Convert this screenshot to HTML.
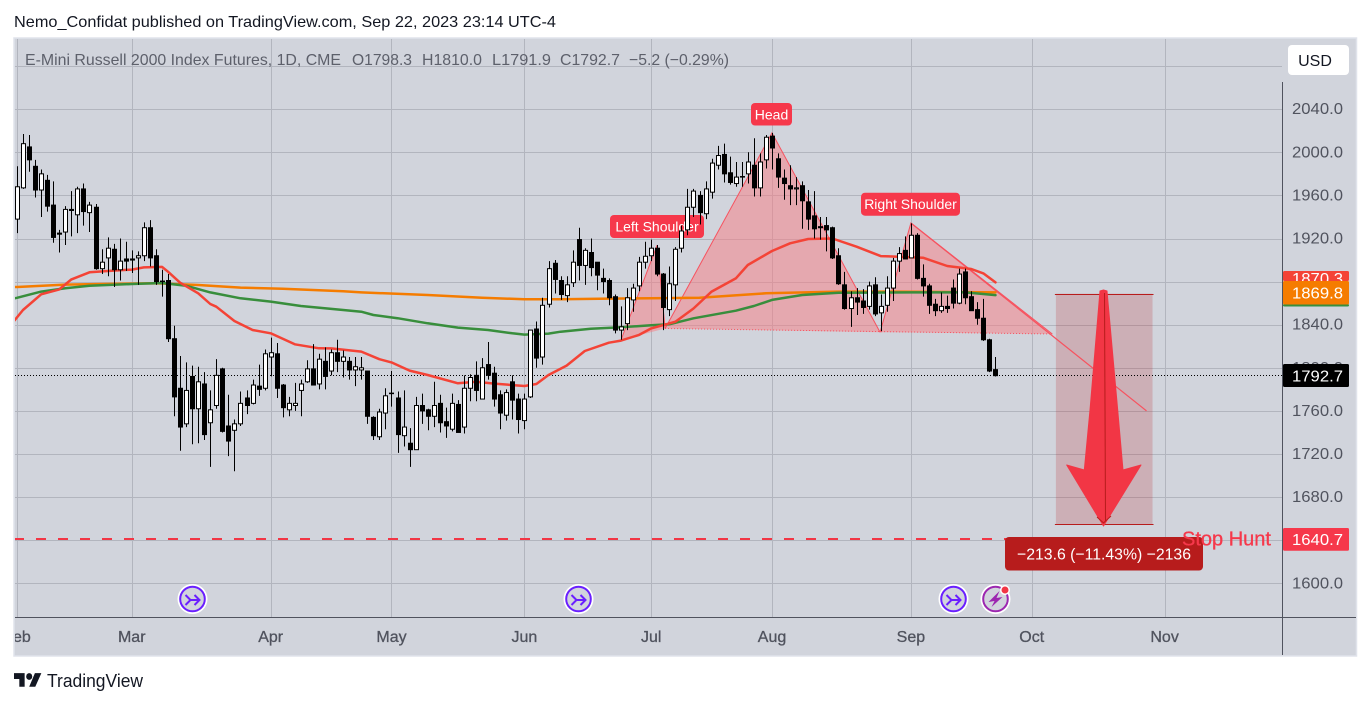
<!DOCTYPE html>
<html lang="en">
<head>
<meta charset="utf-8">
<title>E-Mini Russell 2000 Index Futures chart</title>
<style>
html,body{margin:0;padding:0;background:#fff;width:1370px;height:704px;overflow:hidden}
svg{display:block;font-family:"Liberation Sans",sans-serif}
</style>
</head>
<body>
<svg id="chart" xmlns="http://www.w3.org/2000/svg" width="1370" height="704" viewBox="0 0 1370 704">
  <defs>
    <clipPath id="pane"><rect x="15" y="39" width="1267" height="578"/></clipPath>
    <clipPath id="timeclip"><rect x="15" y="618" width="1267" height="38"/></clipPath>
  </defs>
  <text x="14" y="27" font-size="16" fill="#131722" textLength="542" lengthAdjust="spacingAndGlyphs">Nemo_Confidat published on TradingView.com, Sep 22, 2023 23:14 UTC-4</text>
  <rect x="14" y="38" width="1342.5" height="618" fill="#d1d4dc" stroke="#e0e3eb" stroke-width="1.5"/>
  <g id="grid" clip-path="url(#pane)"></g>
  <g id="drawings" clip-path="url(#pane)"></g>
  <g id="mas" clip-path="url(#pane)"></g>
  <g id="candles" clip-path="url(#pane)"></g>
  <g id="overlay">
    <g>
      <polygon points="1100,291 1103.5,290 1107,291 1117.7,410 1123,470 1141,465 1103.5,526 1066.7,465 1084.3,470 1090,410" fill="#f23645" stroke="#f23645" stroke-width="1" stroke-linejoin="round"/>
      <line x1="1104.5" y1="293" x2="1105.5" y2="521" stroke="#b71c1c" stroke-width="1"/>
      <polyline points="1097,517 1103.5,523 1111,516" fill="none" stroke="#b71c1c" stroke-width="1"/>
    </g>
    <g>
      <rect x="1005" y="537" width="198" height="33.5" rx="4" fill="#b71c1c"/>
      <text x="1104" y="559.5" font-size="16" fill="#fff" text-anchor="middle" textLength="174" lengthAdjust="spacingAndGlyphs">−213.6 (−11.43%) −2136</text>
    </g>
    <text x="1182" y="545.5" font-size="20" fill="#f6384b" stroke="#f6384b" stroke-width="0.3" textLength="89" lengthAdjust="spacingAndGlyphs">Stop Hunt</text>
    <g transform="translate(192.5 599)">
      <circle r="15" fill="#fff"/><circle r="12.3" fill="#d1d4dc" stroke="#6a1fff" stroke-width="2"/>
      <path d="M-7-4-2 1-7 6M-2 1H7M2-4 7 1 2 6" fill="none" stroke="#6a1fff" stroke-width="2"/>
    </g>
    <g transform="translate(578.5 599)">
      <circle r="15" fill="#fff"/><circle r="12.3" fill="#d1d4dc" stroke="#6a1fff" stroke-width="2"/>
      <path d="M-7-4-2 1-7 6M-2 1H7M2-4 7 1 2 6" fill="none" stroke="#6a1fff" stroke-width="2"/>
    </g>
    <g transform="translate(953.5 599)">
      <circle r="15" fill="#fff"/><circle r="12.3" fill="#d1d4dc" stroke="#6a1fff" stroke-width="2"/>
      <path d="M-7-4-2 1-7 6M-2 1H7M2-4 7 1 2 6" fill="none" stroke="#6a1fff" stroke-width="2"/>
    </g>
    <g transform="translate(995.5 599)">
      <circle r="15" fill="#fff"/><circle r="12.3" fill="#d1d4dc" stroke="#9c27b0" stroke-width="2"/>
      <polygon points="4,-8 -7,3 -1,2 -4,8 7,-2 1,-1" fill="#9c27b0"/>
      <circle cx="9.5" cy="-9" r="5" fill="#fff"/><circle cx="9.5" cy="-9" r="3.5" fill="#f23645"/>
    </g>
  </g>
  <text x="25" y="65" font-size="16" fill="#5d606b" textLength="316" lengthAdjust="spacingAndGlyphs">E-Mini Russell 2000 Index Futures, 1D, CME</text>
  <text x="352" y="65" font-size="16" fill="#5d606b" textLength="60" lengthAdjust="spacingAndGlyphs">O1798.3</text>
  <text x="422" y="65" font-size="16" fill="#5d606b" textLength="60" lengthAdjust="spacingAndGlyphs">H1810.0</text>
  <text x="492" y="65" font-size="16" fill="#5d606b" textLength="59" lengthAdjust="spacingAndGlyphs">L1791.9</text>
  <text x="560" y="65" font-size="16" fill="#5d606b" textLength="60" lengthAdjust="spacingAndGlyphs">C1792.7</text>
  <text x="629" y="65" font-size="16" fill="#5d606b" textLength="100" lengthAdjust="spacingAndGlyphs">−5.2 (−0.29%)</text>
  <g id="axes"></g>
  <g>
    <rect x="1288" y="45" width="61" height="30" rx="4" fill="#fff"/>
    <text x="1315" y="66" font-size="16" fill="#131722" text-anchor="middle">USD</text>
  </g>
  <g>
    <g transform="translate(14 668) scale(.76 .85)" fill="#131722">
      <path d="M14 6H0v7h7v9h7V6zM28 22h-8l7.5-16H36l-8 16z"/><circle cx="20" cy="10" r="4"/>
    </g>
    <text x="47" y="687" font-size="18" fill="#131722" textLength="96" lengthAdjust="spacingAndGlyphs">TradingView</text>
  </g>
</svg>
<script>
// ---- Chart data (daily sessions) ----
const opens=[1938,1967,2005,1987,1965,1974,1951,1925,1926,1947,
1942,1966,1944,1949,1892,1902,1910,1891,1901,1901,
1902,1904,1930,1904,1880.5,1881,1827,1781,1748,1792,
1762,1785,1749,1765,1799,1746,1742,1748,1772,1767,
1783,1781,1810,1813,1784,1761,1765,1779,1787,1799,
1785,1806,1797,1814,1806,1806,1798,1798,1797,1754,
1736,1758,1776.5,1772,1737,1730,1724,1765,1761,1755,
1767,1750,1743,1766,1745,1781,1793,1771,1803,1795,
1775,1756,1787,1771,1751,1773,1836,1810,1859,1897,
1881,1867,1879,1919,1895,1907,1898,1883,1881,1866,
1835,1841,1863,1876,1898,1904,1911,1887,1854,1877,
1911,1928,1949,1960,1943,1963,1988,1998,1981,1971,
1977.5,1980,1988,1967,1993,2015,1994,1976,1969,1966,
1969,1954,1941,1931,1932,1930,1904,1877,1855,1865,
1862,1857,1877,1851,1858,1874,1899,1909,1902,1923,
1883,1876,1859,1853,1857,1874,1860,1889,1866,1854,
1846,1826,1798.3];
const closes=[1968,2008,1993,1965,1980,1950,1921,1924,1947,1946,
1966,1945,1951,1892,1898,1911,1891,1899,1899,1900,
1904,1930,1902,1880,1880,1827,1773,1745,1779,1762,
1787,1738,1761,1793,1741,1732,1748,1767,1765,1784,
1780,1813,1814,1781,1763,1767,1767,1785,1799,1784,
1808,1792,1814,1806,1810,1798,1801,1800,1755,1737,
1759,1774,1776,1738,1745,1724,1765,1760,1755,1765,
1749,1746,1767,1740,1781,1791,1779,1800,1793,1771,
1758,1777,1770,1752,1771,1835,1809,1858,1892,1882,
1868,1877,1898,1895,1909,1893,1886,1880,1865,1835,
1838,1865,1874,1898,1903.5,1911,1887,1856,1878,1910,
1927,1949,1964,1944,1966,1990,1997,1980,1972,1977,
1977,1991,1967,1991,2014,2004,1977,1971,1966,1967,
1955,1938,1929,1930,1928,1902,1878,1855,1865,1861,
1856,1876,1850,1857,1874,1899,1906,1901,1923,1883,
1876,1858,1853,1857,1855,1860,1887,1865,1853,1846,
1826,1797,1792.7];
const highs=[1987,2017,2016,1993,1984,1979,1973,1928,1950,1964,
1968,1971,1954,1952,1910,1921,1915,1920,1917,1909,
1908,1935,1937,1910,1891,1887,1839,1811,1805,1802,
1801,1796,1779,1808,1800,1775,1752,1778,1779,1789,
1803,1817,1828,1823,1785,1773,1786,1789,1807,1822,
1813,1819,1817,1826,1816,1810,1810,1810,1797,1755,
1762,1781,1797,1778,1779,1744,1773,1776,1762,1787,
1775,1763,1776,1770,1793,1794,1806,1809,1824,1801,
1779,1780,1793,1776,1776,1835,1843,1865,1899,1900,
1885,1885,1909,1930,1911,1920,1898,1892,1883,1868,
1857,1874,1878,1903,1917,1919,1914,1888,1894,1912,
1932,1966,1966,1964,1973,1994,2006,2008,1996,1991,
1991,2000,2013,1999,2016,2018,1999,1984,1988,1977,
1973,1965,1964,1940,1940,1931,1911,1889,1871,1874,
1873,1880,1884,1868,1885,1902,1912,1922,1934,1925,
1896,1878,1864,1870,1867,1882,1892,1892,1871,1861,
1864,1827,1810];
const lows=[1925,1966,1982,1958,1940,1945,1916,1907,1914,1922,
1925,1932,1926,1891,1887,1885,1875,1881,1890,1888,
1877,1899,1894,1877,1866,1824,1755,1723,1745,1729,
1730,1733,1708,1762,1740,1718,1704,1746,1757,1766,
1774,1779,1792,1772,1754,1755,1760,1755,1786,1784,
1780,1780,1793,1796,1791,1789,1783,1789,1748,1733,
1733,1743,1764,1721,1727,1708,1724,1748,1742,1745,
1740,1735,1741,1740,1739,1769,1769,1771,1789,1764,
1743,1751,1752,1739,1743,1772,1800,1803,1856,1869,
1863,1861,1875,1881,1877,1885,1872,1869,1858,1832,
1826,1835,1852,1871,1892,1899,1885,1835,1848,1862,
1907,1923,1940,1933,1938,1957,1984,1972,1970,1968,
1968,1971,1959,1959,1985,1984,1967,1956,1951,1951,
1929,1928,1920,1919,1908,1901,1877,1854,1838,1849,
1850,1854,1848,1834,1852,1862,1889,1901,1902,1882,
1866,1850,1848,1851,1851,1855,1859,1859,1853,1840,
1825,1796,1791.9];

const redSessions=[-0.4,0,1,4,7,9,12,16,19,21,24,25,27,30,32,33,36,39,42,46,50,52,57,60,62,65,68,73,76,79,84,86,88,91,94,98,100,103,105,109,112,115,119,121,125,128,131,135,139,143,146,150,154,158,160,162];
const redValues=[1844,1846.8,1853.6,1868.2,1872.8,1882,1888.6,1890.2,1891.1,1893.2,1893.6,1889.2,1879,1869.1,1859.2,1856.7,1843.4,1835.1,1832,1821.8,1818.1,1818,1815,1808,1805,1797.4,1793.3,1785.6,1787.1,1785.3,1783.1,1785,1793.3,1802,1815.6,1823.3,1825.2,1830.5,1836.6,1842.8,1855,1870.7,1883,1895.4,1908.4,1915.5,1919.5,1920,1912.4,1903.7,1903.1,1902.2,1894.5,1891.7,1887.6,1879.3];
const greenSessions=[-0.4,0,4,8,12,19,24,28,32,37,42,47,54,57,59,63,68,73,78,82,84,88,90,95,100,105,108,112,119,122,125,130,136,148,157,162];
const greenValues=[1864.5,1865,1870.7,1873.8,1876.2,1877.8,1878.7,1876.2,1870,1864.5,1861.4,1857.4,1853.6,1852.1,1849,1846,1841.3,1837.3,1835.1,1832,1830.8,1831.7,1833.5,1836.3,1837.6,1839.4,1840.4,1845.9,1853,1857.4,1863,1867.6,1869.7,1870,1870,1867.5];
const orangeSessions=[-0.4,0,8,14,23,30,37,44,54,57,68,77,84,90,98,105,113,124,136,148,162];
const orangeValues=[1875,1875,1877.2,1877.8,1878.4,1876.8,1874.4,1873.4,1871,1870,1867.6,1865.1,1863.6,1863.6,1864.2,1864.5,1865.1,1869.1,1870.7,1870.6,1870];

const priceTicks=[2080,2040,2000,1960,1920,1880,1840,1800,1760,1720,1680,1640,1600];
const priceTickLabels=['','2040.0','2000.0','1960.0','1920.0','1880.0','1840.0','1800.0','1760.0','1720.0','1680.0','','1600.0'];
const monthSessions=[0,19,42,62,84,105,125,148,168,190];
const monthLabels=['Feb','Mar','Apr','May','Jun','Jul','Aug','Sep','Oct','Nov'];

const lastPrice=1792.7;
const stopHuntPrice=1640.7;
const shoulderSessions=[100,106,107.3];
const shoulderPrices=[1825.8,1914,1836.5];
const headSessions=[107.3,125,142.9];
const headPrices=[1836.5,2018,1833];
const rightSessions=[142.9,148,171.4];
const rightPrices=[1833,1934.4,1831.4];
const neckSessions=[107.3,171.4];
const neckPrices=[1836.5,1831.4];
const slopeSessions=[148,187];
const slopePrices=[1934.4,1760];
const shortBoxSessions=[172,188];
const shortBoxPrices=[1868.8,1655];

// ---- Axis functions ----
const x=i=>17+6.04*i;
const y=p=>152.3+(2000-p)*1.0775;
const NS='http://www.w3.org/2000/svg';
function mk(parent,tag,attrs,txt){
  const el=document.createElementNS(NS,tag);
  for(const k in attrs){el.setAttribute(k,attrs[k]);}
  if(txt!==undefined){el.textContent=txt;}
  parent.appendChild(el);
  return el;
}
const pts=(s,v)=>s.map((d,i)=>x(d).toFixed(1)+','+y(v[i]).toFixed(1)).join(' ');

// ---- Grid ----
const grid=document.getElementById('grid');
priceTicks.forEach(p=>{
  const gy=Math.round(y(p))+0.5;
  const l=mk(grid,'line',{x1:14,x2:1282,y1:gy,y2:gy,stroke:'#b2b5be','stroke-width':1});
  
  
});
monthSessions.forEach(s=>{
  const gx=Math.round(x(s))+0.5;
  const l=mk(grid,'line',{x1:gx,x2:gx,y1:38,y2:617,stroke:'#b2b5be','stroke-width':1});
  
  
});

// ---- Drawings ----
const dr=document.getElementById('drawings');
const shortBox=mk(dr,'rect',{x:x(shortBoxSessions[0]),y:y(shortBoxPrices[0]),width:x(shortBoxSessions[1])-x(shortBoxSessions[0]),height:y(shortBoxPrices[1])-y(shortBoxPrices[0]),fill:'rgba(183,28,28,.2)'});


[shortBoxPrices[0],shortBoxPrices[1]].forEach(p=>{
  const l=mk(dr,'line',{x1:x(shortBoxSessions[0])-1,x2:x(shortBoxSessions[1])+1,y1:Math.round(y(p))+0.5,y2:Math.round(y(p))+0.5,stroke:'#b71c1c','stroke-width':1});
  
  
});
[[shoulderSessions,shoulderPrices,'left-shoulder-triangle'],[headSessions,headPrices,'head-triangle'],[rightSessions,rightPrices,'right-shoulder-triangle']].forEach(t=>{
  const g=mk(dr,'polygon',{points:pts(t[0],t[1]),fill:'rgba(249,124,130,.5)',stroke:'none'});
  
  
  const e=mk(dr,'polyline',{points:pts(t[0],t[1]),fill:'none',stroke:'#f7525f','stroke-width':1});
  
  
});
const neck=mk(dr,'polyline',{points:pts(neckSessions,neckPrices),fill:'none',stroke:'#f7525f','stroke-width':1,'stroke-dasharray':'1 2'});


const slope=mk(dr,'polyline',{points:pts(slopeSessions,slopePrices),fill:'none',stroke:'#f7525f','stroke-width':1.2});


const stopLine=mk(dr,'line',{x1:14,x2:1172,y1:y(stopHuntPrice)-0.4,y2:y(stopHuntPrice)-0.4,stroke:'#f23645','stroke-width':2,'stroke-dasharray':'10 12'});


const lastLine=mk(dr,'line',{x1:15,x2:1283,y1:Math.round(y(lastPrice))-0.5,y2:Math.round(y(lastPrice))-0.5,stroke:'#000','stroke-width':1,'stroke-dasharray':'1 2'});


[[751,103,41,22.5,'Head','head-label'],[610,215,94,23,'Left Shoulder','left-shoulder-label'],[861,192.7,99,23,'Right Shoulder','right-shoulder-label']].forEach(b=>{
  const g=mk(dr,'g',{});
  
  
  mk(g,'rect',{x:b[0],y:b[1],width:b[2],height:b[3],rx:4,fill:'#f6384b'});
  mk(g,'text',{x:b[0]+b[2]/2,y:b[1]+b[3]/2+5,'font-size':14,fill:'#fff','text-anchor':'middle'},b[4]);
});

// ---- Moving averages ----
const mas=document.getElementById('mas');
[[orangeSessions,orangeValues,'#f57c00','ma-orange'],[greenSessions,greenValues,'#388e3c','ma-green'],[redSessions,redValues,'#f44336','ma-red']].forEach(m=>{
  const l=mk(mas,'polyline',{points:pts(m[0],m[1]),fill:'none',stroke:m[2],'stroke-width':2.5,'stroke-linejoin':'round','stroke-linecap':'round'});
  
  
});

// ---- Candles ----
const cg=document.getElementById('candles');
opens.forEach((o,i)=>{
  const c=closes[i],up=c>=o,cx=Math.round(x(i))+0.5;
  const g=mk(cg,'g',{});
  
  
  mk(g,'line',{x1:cx,x2:cx,y1:y(highs[i]),y2:y(lows[i]),stroke:'#000','stroke-width':1});
  const top=y(Math.max(o,c)),bot=y(Math.min(o,c));
  mk(g,'rect',{x:cx-2,y:top,width:4,height:Math.max(bot-top,0.5),fill:up?'#fff':'#000',stroke:'#000','stroke-width':1});
});

// ---- Axes ----
const ax=document.getElementById('axes');
priceTicks.forEach((p,i)=>{
  if(!priceTickLabels[i])return;
  const t=mk(ax,'text',{x:1343,y:y(p)+5,'font-size':16,fill:'#50535e','text-anchor':'end',textLength:51,lengthAdjust:'spacingAndGlyphs'},priceTickLabels[i]);
  
  
});
const timeLabels=mk(ax,'g',{'clip-path':'url(#timeclip)'});


monthSessions.forEach((s,i)=>{
  const t=mk(timeLabels,'text',{x:x(s),y:642,'font-size':16,fill:'#50535e',stroke:'#50535e','stroke-width':0.3,'text-anchor':'middle'},monthLabels[i]);
  
  
});
const vAxis=mk(ax,'line',{x1:1282.5,x2:1282.5,y1:82,y2:655,stroke:'#50535e','stroke-width':1});


const hAxis=mk(ax,'line',{x1:15,x2:1356,y1:617.5,y2:617.5,stroke:'#50535e','stroke-width':1});



[[271,10,'#f44336','1870.3','ma-red-tag',284],[304,2.5,'#388e3c','','ma-green-tag',0],[281,23.5,'#f57c00','1869.8','ma-orange-tag',298.5],[364,23,'#000','1792.7','last-price-tag',381.5],[528,22.7,'#f6384b','1640.7','stop-hunt-tag',545]].forEach(t=>{
  const g=mk(ax,'g',{});
  
  
  const clipId='clip-'+t[4];
  const cp=mk(ax,'clipPath',{id:clipId});
  mk(cp,'rect',{x:1283,y:t[0],width:66,height:t[1]});
  mk(g,'rect',{x:1283,y:t[0],width:66,height:t[1],rx:1.5,fill:t[2]});
  if(t[3]){mk(g,'text',{x:1343,y:t[5],'font-size':16,fill:'#fff','text-anchor':'end',textLength:51,lengthAdjust:'spacingAndGlyphs','clip-path':'url(#'+clipId+')'},t[3]);}
});
</script>
</body>
</html>
